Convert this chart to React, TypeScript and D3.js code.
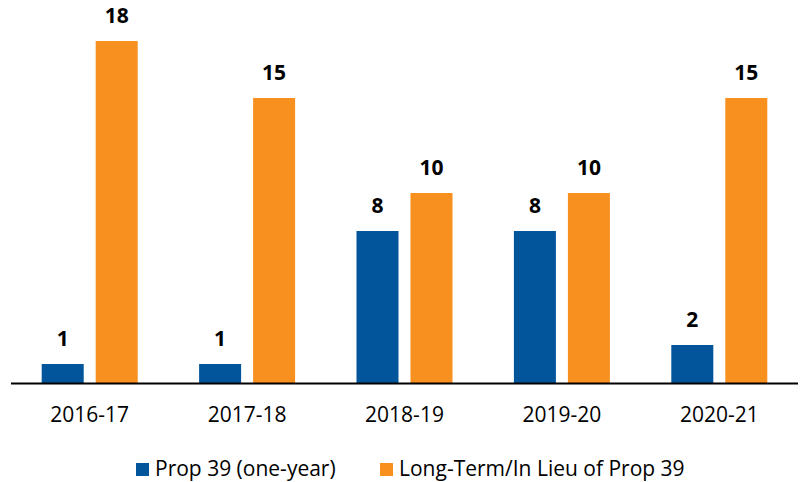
import React, { useEffect, useRef } from 'react';
import * as d3 from 'd3';

const years = ['2016-17', '2017-18', '2018-19', '2019-20', '2020-21'];
const seriesNames = ['Prop 39 (one-year)', 'Long-Term/In Lieu of Prop 39'];
const prop39 = [1, 1, 8, 8, 2];
const longTerm = [18, 15, 10, 10, 15];
const colors = ['#02559B', '#F7901E'];

const width = 800;
const height = 482;
const font = '"Open Sans", Lato, sans-serif';

export default function App() {
  const svgRef = useRef<SVGSVGElement>(null);

  useEffect(() => {
    if (!svgRef.current) return;
    const svg = d3.select(svgRef.current);
    svg.selectAll('*').remove();

    const baseline = 383;
    const x0 = d3.scaleBand<string>().domain(years).range([11, 798]).padding(0);
    const x1 = d3.scaleBand<string>()
      .domain(seriesNames)
      .range([(x0.bandwidth() - 96) / 2, (x0.bandwidth() + 96) / 2])
      .paddingInner(0.222);
    const y = d3.scaleLinear().domain([0, 20]).range([baseline, 3]);

    const rows = years.map((yr, i) => ({
      year: yr,
      values: [prop39[i], longTerm[i]],
    }));

    const groups = svg.selectAll('.grp')
      .data(rows)
      .enter()
      .append('g')
      .attr('class', 'grp')
      .attr('transform', d => `translate(${x0(d.year)},0)`);

    groups.selectAll('rect')
      .data(d => d.values.map((v, j) => ({ v, s: seriesNames[j], c: colors[j] })))
      .enter()
      .append('rect')
      .attr('x', d => x1(d.s)!)
      .attr('width', x1.bandwidth())
      .attr('y', d => y(d.v))
      .attr('height', d => baseline - y(d.v))
      .style('fill', d => d.c);

    groups.selectAll('text')
      .data(d => d.values.map((v, j) => ({ v, s: seriesNames[j] })))
      .enter()
      .append('text')
      .attr('x', d => x1(d.s)! + x1.bandwidth() / 2)
      .attr('y', d => y(d.v) - 18)
      .attr('text-anchor', 'middle')
      .style('font-family', font)
      .style('font-weight', 'bold')
      .style('font-size', '21px')
      .style('fill', '#000')
      .text(d => d.v);

    // Ось X
    svg.append('line')
      .attr('x1', x0.range()[0])
      .attr('x2', x0.range()[1])
      .attr('y1', baseline + 0.5)
      .attr('y2', baseline + 0.5)
      .style('stroke', '#000')
      .style('stroke-width', '2px');

    svg.selectAll('.cat')
      .data(years)
      .enter()
      .append('text')
      .attr('class', 'cat')
      .attr('x', d => x0(d)! + x0.bandwidth() / 2)
      .attr('y', 422)
      .attr('text-anchor', 'middle')
      .style('font-family', font)
      .style('font-size', '21px')
      .style('fill', '#000')
      .text(d => d);

    // Легенда
    const legendX = [136, 380];
    const legend = svg.selectAll('.leg')
      .data(seriesNames)
      .enter()
      .append('g')
      .attr('class', 'leg')
      .attr('transform', (_, i) => `translate(${legendX[i]},0)`);

    legend.append('rect')
      .attr('x', 0)
      .attr('y', 463)
      .attr('width', 13)
      .attr('height', 13)
      .style('fill', (_, i) => colors[i]);

    legend.append('text')
      .attr('x', 19)
      .attr('y', 476)
      .style('font-family', font)
      .style('font-size', '21px')
      .style('fill', '#000')
      .text(d => d);
  }, []);

  return (
    <svg
      ref={svgRef}
      width={width}
      height={height}
      style={{ position: 'absolute', left: 0, top: 0, background: '#fff' }}
    />
  );
}
